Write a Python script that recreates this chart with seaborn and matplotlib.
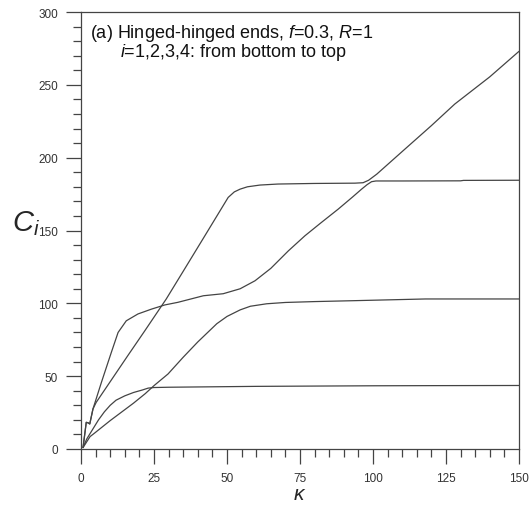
import numpy as np
import pandas as pd
import matplotlib
matplotlib.use("Agg")
import matplotlib.pyplot as plt
import seaborn as sns
from matplotlib.ticker import MultipleLocator

# ---- data ----
k1 = [0.7, 2, 4, 6, 8, 10, 12, 15, 18, 21, 23, 25, 30, 40, 60, 80, 100, 120, 150]
c1 = [1, 7, 13.5, 20, 25.5, 30, 33.5, 36.5, 38.8, 40.5, 41.8, 42.2, 42.4, 42.6, 43.0, 43.2, 43.4, 43.5, 43.6]

k2 = [0.7, 3.1, 4.7, 10, 14, 18, 22, 25, 29.8, 35, 40, 46.5, 50, 54.5, 58, 63.6, 70, 80, 93, 118, 150]
c2 = [1, 8.5, 11, 19.5, 25.5, 31.5, 38, 43.5, 51.5, 63, 73.5, 86, 91, 95.5, 98, 99.7, 100.6, 101.2, 101.8, 103, 103]

k3 = [0.7, 1.8, 2.4, 3.0, 4.1, 7.0, 10.4, 12.7, 15.5, 19.5, 24.1, 28.7, 33.2, 41.9, 48.7,
      54.5, 59.6, 65, 71, 76.7, 82, 88.1, 93, 96.1, 98, 99.5, 101, 110, 130, 131, 150]
c3 = [1, 18.3, 18.0, 17.2, 27.5, 45.8, 66.4, 80, 88, 92.7, 96, 98.9, 100.7, 105.2, 106.6,
      110, 115.5, 124, 136, 146.4, 155, 164.7, 173, 178.4, 181.5, 183.5, 184, 184, 184.1, 184.4, 184.5]

k4 = [0.7, 1.8, 2.4, 3.0, 4.1, 5.2, 10.4, 16.1, 21.8, 29.2, 35, 42, 50.4, 52.5, 54.5, 57,
      61.3, 67.5, 80, 93.8, 96.6, 98.5, 101.3, 111, 120, 128, 140, 150]
c4 = [1, 18.3, 18.0, 17.2, 27.5, 32, 47.4, 64.3, 81, 103, 122, 145, 172.7, 176.5, 178.4, 180,
      181.2, 181.9, 182.3, 182.5, 182.8, 184.5, 188.7, 206, 222, 236.8, 255.5, 273]

x_ticks = [0, 25, 50, 75, 100, 125, 150]
y_ticks = [0, 50, 100, 150, 200, 250, 300]

frames = []
for name, k, c in [("1", k1, c1), ("2", k2, c2), ("3", k3, c3), ("4", k4, c4)]:
    frames.append(pd.DataFrame({"kappa": k, "C": c, "curve": name}))
df = pd.concat(frames, ignore_index=True)

sns.set_style("ticks")
plt.rcParams["font.family"] = ["Liberation Sans", "DejaVu Sans"]
plt.rcParams["mathtext.fontset"] = "custom"
plt.rcParams["mathtext.rm"] = "Liberation Sans"
plt.rcParams["mathtext.it"] = "Liberation Sans:italic"

fig = plt.figure(figsize=(5.29, 5.10), dpi=100)
ax = fig.add_axes([81 / 529, 1 - 450 / 510, 438 / 529, 437 / 510])

sns.lineplot(data=df, x="kappa", y="C", units="curve", estimator=None, sort=False,
             color="#444444", linewidth=0.9, ax=ax, legend=False)

ax.set_xlim(0, 150)
ax.set_ylim(0, 300)
ax.set_xticks(x_ticks)
ax.set_yticks(y_ticks)
ax.xaxis.set_minor_locator(MultipleLocator(5))
ax.yaxis.set_minor_locator(MultipleLocator(10))
ax.tick_params(which="major", direction="out", length=10.5, width=0.9, color="#444444",
               labelsize=8.5, pad=6, labelcolor="#333333")
ax.tick_params(which="minor", direction="out", length=5.5, width=0.9, color="#444444")
for s in ax.spines.values():
    s.set_color("#444444")
    s.set_linewidth(0.9)

ax.set_xlabel(r"$\kappa$", fontsize=15, labelpad=0)
ax.set_ylabel(r"$C_i$", fontsize=21, rotation=0, ha="center", va="center")
ax.yaxis.set_label_coords((26 - 81) / 438, (450 - 224) / 437)

fig.text(90 / 529, 1 - 38 / 510, r"(a) Hinged-hinged ends, $f$=0.3, $R$=1",
         fontsize=13, va="baseline", ha="left", color="#111111")
fig.text(120 / 529, 1 - 57 / 510, r"$i$=1,2,3,4: from bottom to top",
         fontsize=13, va="baseline", ha="left", color="#111111")

fig.savefig("out.png", dpi=100)
